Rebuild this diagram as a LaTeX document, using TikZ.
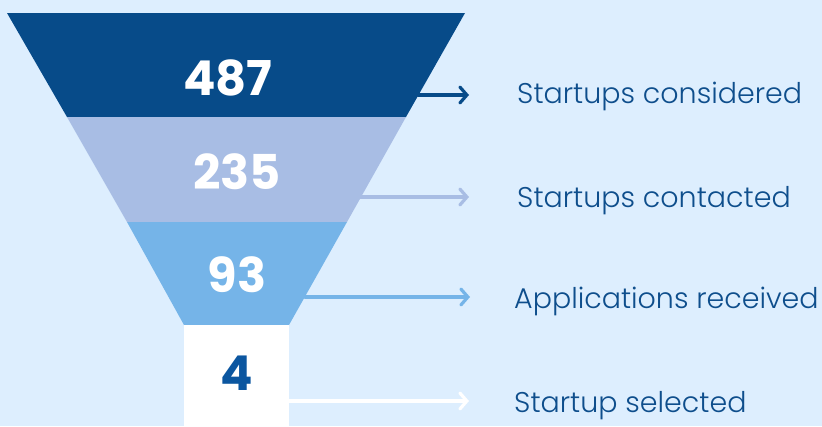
\documentclass[tikz,border=0pt]{standalone}
\usepackage{fontspec}
\setmainfont{Poppins}
\newfontfamily\stagefont{Poppins Light}
\usetikzlibrary{arrows.meta}
\definecolor{bgblue}{HTML}{DDEEFE}
\definecolor{navy}{HTML}{074B89}
\definecolor{lavender}{HTML}{A8BDE4}
\definecolor{sky}{HTML}{75B4E8}
\definecolor{labelblue}{HTML}{0E4E8C}
\definecolor{numblue}{HTML}{0B56A0}
\begin{document}
\begin{tikzpicture}[x=1pt,y=-1pt,
  num/.style={anchor=base,text=white,font=\fontsize{48}{48}\selectfont\bfseries},
  stagelabel/.style={anchor=base west,text=labelblue,font=\stagefont\fontsize{28.5}{28.5}\selectfont,inner sep=0pt},
  pointer/.style={line width=3.2pt,line cap=round,-{Straight Barb[length=7pt,width=16pt,line cap=round]}}]
\useasboundingbox (0,0) rectangle (822,426);
\fill[bgblue] (0,0) rectangle (822,426);
% funnel bands
\fill[navy] (7,13) -- (465,13) -- (406,117) -- (67,117) -- cycle;
\fill[lavender] (67,117) -- (406,117) -- (347,222) -- (127,222) -- cycle;
\fill[sky] (127,222) -- (347,222) -- (289,325) -- (184,325) -- cycle;
\fill[white] (184,325) rectangle (289,426);
% counts
\node[num] (n1) at (228,95) {487};
\node[num] (n2) at (237,189) {235};
\node[num] (n3) at (237,292) {93};
\node[num,text=numblue] (n4) at (237,390) {4};
% stage labels
\node[stagelabel] (l1) at (517,103) {Startups considered};
\node[stagelabel] (l2) at (517,207) {Startups contacted};
\node[stagelabel] (l3) at (514,308) {Applications received};
\node[stagelabel] (l4) at (514,412) {Startup selected};
% pointer start and end points
\coordinate (s1) at (418,95);  \coordinate (e1) at (469,95);
\coordinate (s2) at (359,197); \coordinate (e2) at (469,197);
\coordinate (s3) at (305,297); \coordinate (e3) at (470,297);
\coordinate (s4) at (289,401); \coordinate (e4) at (469,401);
\draw[pointer,navy] (s1) -- (e1);
\draw[pointer,lavender] (s2) -- (e2);
\draw[pointer,sky] (s3) -- (e3);
\draw[pointer,white] (s4) -- (e4);
\end{tikzpicture}
\end{document}
